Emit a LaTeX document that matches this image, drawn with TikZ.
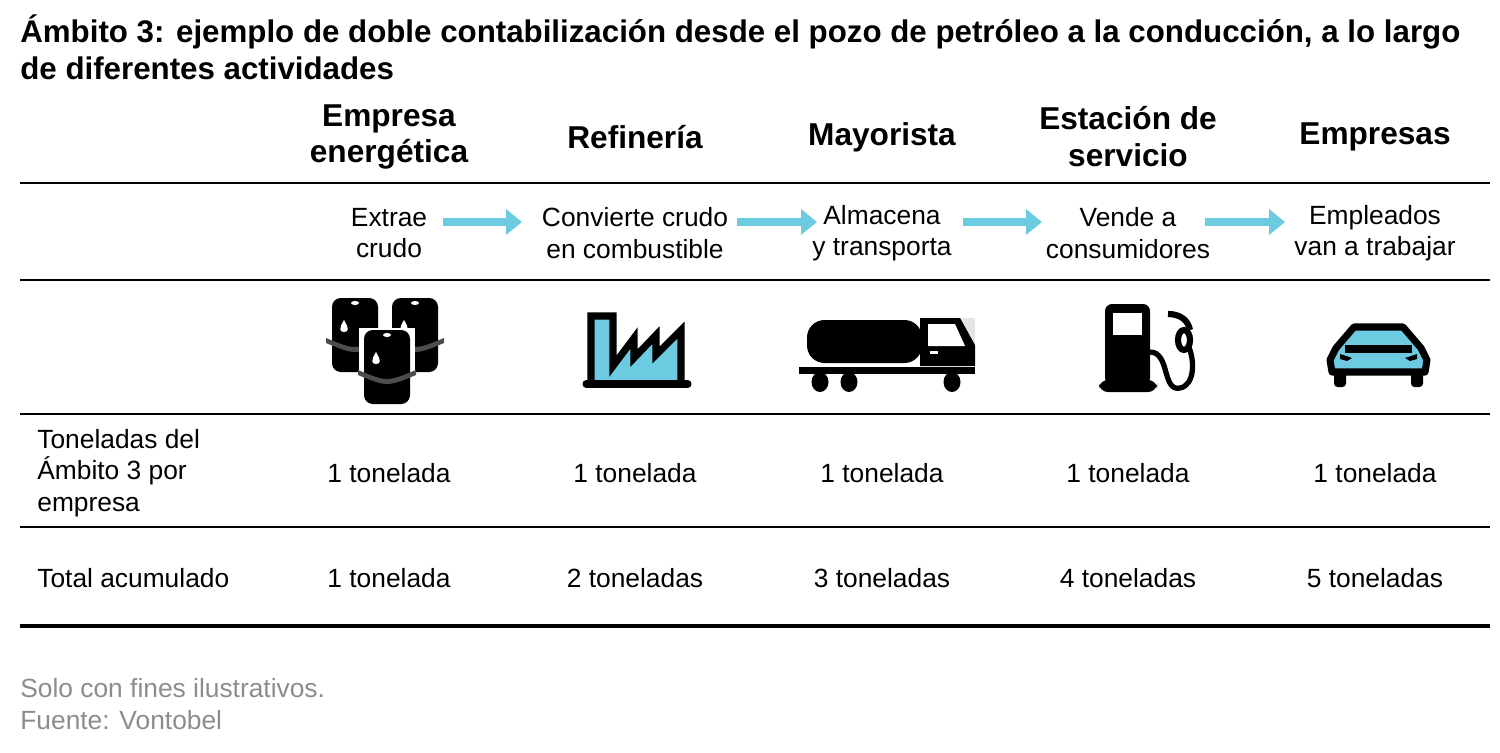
\documentclass[tikz,border=0pt]{standalone}
\usepackage{fontspec}
\setmainfont{Liberation Sans}
\definecolor{flecha}{HTML}{6CCBE0}
\definecolor{gris}{HTML}{8C8C8C}
\tikzset{
  cab/.style={font=\bfseries\fontsize{18}{21}\selectfont, align=center},
  txt/.style={font=\fontsize{15}{18}\selectfont, align=center},
  regla/.style={line width=1.2pt},
  paso/.style={line width=5pt, flecha, -{Triangle[length=9pt,width=14pt]}},
  barril/.style={fill=black},
}
\usetikzlibrary{arrows.meta}
\begin{document}
\begin{tikzpicture}[x=0.02cm,y=-0.02cm]
\useasboundingbox (0,0) rectangle (1500,753);
% titulo
\node[anchor=north west, font=\bfseries\fontsize{17.8}{21.5}\selectfont, align=left, inner sep=0] (titulo) at (20,14)
  {Ámbito 3: ejemplo de doble contabilización desde el pozo de petróleo a la conducción, a lo largo\\de diferentes actividades};
% cabeceras
\node[cab] (c1) at (389,137) {Empresa\\energética};
\node[cab] (c2) at (635,137) {Refinería};
\node[cab] (c3) at (882,137) {Mayorista};
\node[cab] (c4) at (1128,137) {Estación de\\servicio};
\node[cab] (c5) at (1375,137) {Empresas};
% reglas
\foreach \y in {183,280,414,527} \draw[regla] (20,\y) -- (1490,\y);
\draw[line width=1.8pt] (20,626) -- (1490,626);
% actividades
\node[txt] (a1) at (389,233) {Extrae\\crudo};
\node[txt] (a2) at (635,233) {Convierte crudo\\en combustible};
\node[txt] (a3) at (882,233) {Almacena\\y transporta};
\node[txt] (a4) at (1128,233) {Vende a\\consumidores};
\node[txt] (a5) at (1375,233) {Empleados\\van a trabajar};
\coordinate (f1a) at (443,222); \coordinate (f1b) at (522,222);
\coordinate (f2a) at (737,222); \coordinate (f2b) at (817,222);
\coordinate (f3a) at (963,222); \coordinate (f3b) at (1042,222);
\coordinate (f4a) at (1205,222); \coordinate (f4b) at (1285,222);
\foreach \i in {1,...,4} \draw[paso] (f\i a) -- (f\i b);
% barriles
\foreach \bx/\by in {332/298,392/298,364/330}{
  \fill[white] (\bx-5,\by-2) rectangle (\bx+51,\by+78);
  \fill[barril, rounded corners=5pt] (\bx,\by) rectangle (\bx+46,\by+74);
  \fill[black!70] (\bx-6,\by+40) .. controls (\bx+23,\by+52) .. (\bx+52,\by+40) -- (\bx+52,\by+45) .. controls (\bx+23,\by+57) .. (\bx-6,\by+45) -- cycle;
  \fill[white] (\bx+23,\by+5) ellipse (4 and 2);
  \fill[white] (\bx+12,\by+22) .. controls (\bx+7,\by+30) and (\bx+7,\by+34) .. (\bx+12,\by+34) .. controls (\bx+17,\by+34) and (\bx+17,\by+30) .. (\bx+12,\by+22);
}
% fabrica
\filldraw[fill=flecha, draw=black, line width=4pt, line join=miter]
  (591,384) -- (591,316) -- (613,316) -- (613,366) -- (634,338) -- (634,358) -- (656,335) -- (656,355) -- (681,330) -- (681,384) -- cycle;
\draw[line width=4pt, line cap=round] (586,384) -- (688,384);
% camion
\fill[rounded corners=10pt] (807,320) rectangle (922,363);
\fill[black!10] (960,318) rectangle (975,364);
\fill (920,318) -- (960,318) -- (975,345) -- (975,366) -- (920,366) -- cycle;
\fill[white] (928,324) -- (955,324) -- (965,346) -- (928,346) -- cycle;
\fill[white] (930,351) rectangle (938,354);
\fill (799,367) rectangle (975,374);
\foreach \wx in {820,849,952} \fill (\wx,382) ellipse (8.5 and 10);
% surtidor
\fill[rounded corners=4pt] (1105,304) rectangle (1150,385);
\fill[rounded corners=5pt] (1099,380) rectangle (1157,392);
\fill[white] (1113,313) rectangle (1142,335);
\draw[line width=3pt] (1150,352) .. controls (1170,352) and (1162,392) .. (1180,388) .. controls (1195,385) and (1195,360) .. (1188,345);
\draw[line width=3.5pt] (1168,314) .. controls (1180,314) and (1188,320) .. (1190,330);
\draw[line width=3.5pt] (1184,340) ellipse (6 and 10);
% coche
\filldraw[fill=flecha, draw=black, line width=4pt, line join=round]
  (1330,360) -- (1336,348) -- (1354,327) -- (1403,327) -- (1421,348) -- (1427,360) -- (1425,372) -- (1332,372) -- cycle;
\draw[line width=4pt] (1345,349) -- (1412,349);
\fill (1340,354) -- (1352,358) -- (1347,361) -- (1340,359) -- cycle;
\fill (1417,354) -- (1405,358) -- (1410,361) -- (1417,359) -- cycle;
\fill[rounded corners=2pt] (1334,372) rectangle (1346,387);
\fill[rounded corners=2pt] (1411,372) rectangle (1423,387);
% filas
\node[txt, anchor=west, align=left, inner sep=0] (r1) at (37,473) {Toneladas del\\Ámbito 3 por\\empresa};
\node[txt, anchor=west, inner sep=0] (r2) at (37,578) {Total acumulado};
\foreach \x in {389,635,882,1128,1375} \node[txt] at (\x,473) {1 tonelada};
\node[txt] (t1) at (389,578) {1 tonelada};
\node[txt] (t2) at (635,578) {2 toneladas};
\node[txt] (t3) at (882,578) {3 toneladas};
\node[txt] (t4) at (1128,578) {4 toneladas};
\node[txt] (t5) at (1375,578) {5 toneladas};
% pie
\node[txt, anchor=north west, align=left, text=gris, inner sep=0] (pie) at (20,678) {Solo con fines ilustrativos.\\Fuente: Vontobel};
\end{tikzpicture}
\end{document}
